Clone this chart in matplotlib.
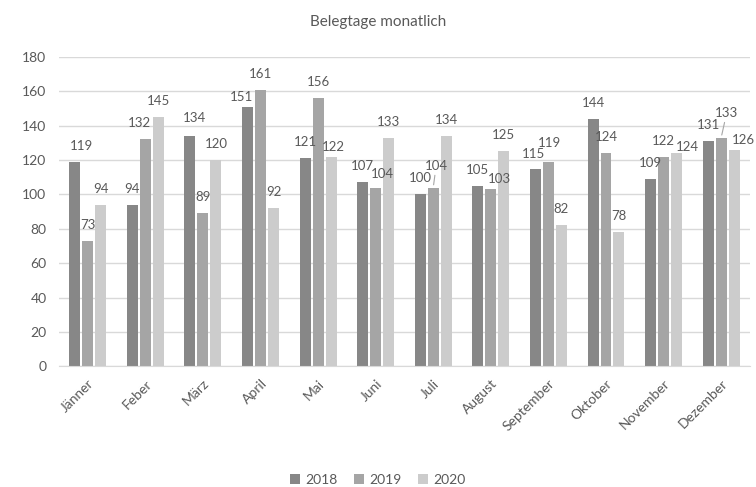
import matplotlib.pyplot as plt
import numpy as np

plt.rcParams['font.family'] = ['Lato', 'DejaVu Sans']

months = ['Jänner', 'Feber', 'März', 'April', 'Mai', 'Juni',
          'Juli', 'August', 'September', 'Oktober', 'November', 'Dezember']
years = ['2018', '2019', '2020']
v2018 = [119, 94, 134, 151, 121, 107, 100, 105, 115, 144, 109, 131]
v2019 = [73, 132, 89, 161, 156, 104, 104, 103, 119, 124, 122, 133]
v2020 = [94, 145, 120, 92, 122, 133, 134, 125, 82, 78, 124, 126]

colors = ['#878787', '#a5a5a5', '#cccccc']
txt = '#595959'

# label nudges in pixels (series, month) -> (dx, dy); default is (0, 16)
nudge = {(0, 0): (7, 16), (1, 1): (-6, 16), (0, 2): (5, 18), (0, 3): (-6, 10),
         (2, 4): (2, 10), (1, 5): (7, 14), (1, 6): (3, 22), (1, 7): (9, 10),
         (0, 8): (-2, 15), (1, 8): (1, 19),
         (2, 10): (11, 6), (1, 11): (5, 25), (2, 11): (9, 10)}
leaders = [(1, 6), (1, 11)]

fig = plt.figure(figsize=(7.56, 4.87), dpi=100)
ax = fig.add_axes([0.078, 0.248, 0.914, 0.635])

x = np.arange(len(months))
w = 0.19
step = 0.225
for s, vals in enumerate([v2018, v2019, v2020]):
    xs = x + (s - 1) * step
    ax.bar(xs, vals, w, color=colors[s], label=years[s], zorder=2)
    for i, v in enumerate(vals):
        dx, dy = nudge.get((s, i), (0, 16))
        if (s, i) in leaders:
            ax.annotate('', xy=(xs[i], v), xytext=(dx - 1, dy - 7),
                        textcoords='offset pixels',
                        arrowprops=dict(arrowstyle='-', color='#a6a6a6', lw=0.8))
        ax.annotate(str(v), xy=(xs[i], v), xytext=(dx, dy),
                    textcoords='offset pixels', ha='center', va='center',
                    fontsize=9.5, color=txt)

ax.set_xlim(-0.5, len(months) - 0.5)
ax.set_ylim(0, 180)
ax.set_yticks(range(0, 181, 20))
ax.yaxis.grid(True, color='#d9d9d9', lw=1, zorder=0)
ax.set_xticks(x)
ax.set_xticklabels(months, rotation=45, ha='right', rotation_mode='anchor')
ax.tick_params(length=0, labelsize=10, colors=txt)
ax.tick_params(axis='y', pad=9)
ax.tick_params(axis='x', pad=8)
for sp in ['top', 'right', 'left']:
    ax.spines[sp].set_visible(False)
ax.spines['bottom'].set_color('#d9d9d9')

fig.text(0.5, 0.955, 'Belegtage monatlich', ha='center', va='center',
         fontsize=11, color=txt)
fig.legend(loc='center', bbox_to_anchor=(0.5, 0.014), ncol=3, frameon=False,
           handlelength=0.7, handleheight=0.7, handletextpad=0.4,
           columnspacing=1.2, fontsize=10, labelcolor=txt)

fig.savefig('out.png', dpi=100)
